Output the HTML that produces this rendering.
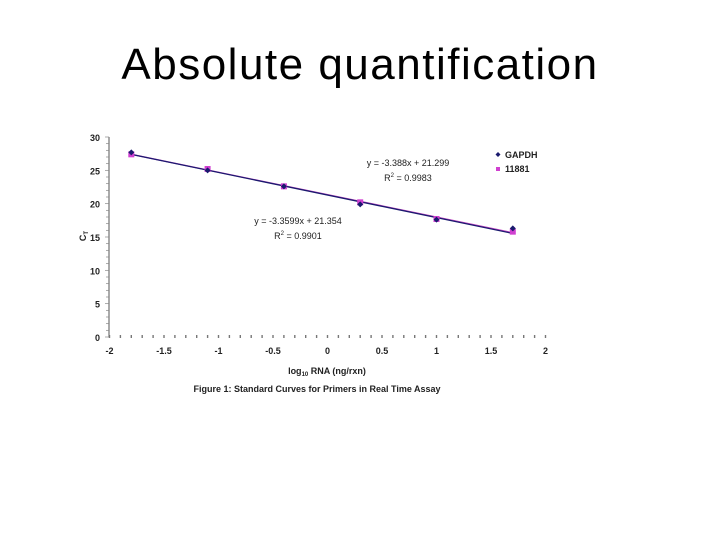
<!DOCTYPE html>
<html><head><meta charset="utf-8"><style>
body{margin:0;width:720px;height:540px;background:#fff;overflow:hidden;font-family:"Liberation Sans",sans-serif}
svg text{font-family:"Liberation Sans",sans-serif}
</style></head><body>
<div style="position:absolute;left:0;top:40px;width:720px;text-align:center;font-size:44px;letter-spacing:1.5px;color:#000;">Absolute quantification</div>
<svg id="chart" width="720" height="540" style="position:absolute;left:0;top:0"></svg>
<script>
const xTicks=[-2,-1.5,-1,-0.5,0,0.5,1,1.5,2];
const yTicks=[0,5,10,15,20,25,30];
const xVals=[-1.8,-1.1,-0.4,0.3,1.0,1.7];
const gapdh=[27.7,25.0,22.6,19.9,17.6,16.3];
const s11881=[27.4,25.2,22.6,20.2,17.7,15.8];
const fitG=[-3.388,21.299];
const fitS=[-3.3599,21.354];
const NS="http://www.w3.org/2000/svg";
const svg=document.getElementById('chart');
const X=v=>327.5+v*109;
const Y=v=>337-v*200/30;
function el(t,a,p){const e=document.createElementNS(NS,t);for(const k in a)e.setAttribute(k,a[k]);(p||svg).appendChild(e);return e;}
let ax=el('line',{x1:109,y1:Y(30),x2:109,y2:Y(0),stroke:'#555','stroke-width':1});


for(let v=0;v<=30;v+=1){el('line',{x1:v%5?106:105,y1:Y(v),x2:109,y2:Y(v),stroke:'#888','stroke-width':0.7});}
yTicks.forEach(v=>{const t=el('text',{x:100,y:Y(v)+4,'font-size':9,'font-weight':'bold','text-anchor':'end',fill:'#222'});t.textContent=v;

});
for(let v=-2;v<=2.001;v+=0.1){el('rect',{x:X(v)-0.7,y:Y(0)-2,width:1.4,height:3,fill:'#777'});}
xTicks.forEach(v=>{const t=el('text',{x:X(v),y:354,'font-size':9,'font-weight':'bold','text-anchor':'middle',fill:'#222'});t.textContent=v;

});
function fit(f,c,n){const l=el('line',{x1:X(xVals[0]),y1:Y(f[0]*xVals[0]+f[1]),x2:X(xVals[xVals.length-1]),y2:Y(f[0]*xVals[xVals.length-1]+f[1]),stroke:c,'stroke-width':1.3});

}
fit(fitS,'#c040c0','trendline-11881');
fit(fitG,'#1a1a6e','trendline-gapdh');
xVals.forEach((x,i)=>{const r=el('rect',{x:X(x)-3,y:Y(s11881[i])-3,width:6,height:6,fill:'#d040d0'});


const p=el('path',{d:`M${X(x)},${Y(gapdh[i])-3}l3,3l-3,3l-3,-3z`,fill:'#1a1a6e'});

});
function txt(x,y,s,a,sz,w,n){const t=el('text',{x:x,y:y,'font-size':sz||9,'text-anchor':a||'start','font-weight':w||'normal',fill:'#222'});t.innerHTML=s;

return t;}
txt(408,166,'y = -3.388x + 21.299','middle',9,'normal','equation-gapdh');
txt(408,181,'R<tspan font-size="6" dy="-4">2</tspan><tspan dy="4"> = 0.9983</tspan>','middle',9,'normal','r2-gapdh');
txt(298,224,'y = -3.3599x + 21.354','middle',9,'normal','equation-11881');
txt(298,239,'R<tspan font-size="6" dy="-4">2</tspan><tspan dy="4"> = 0.9901</tspan>','middle',9,'normal','r2-11881');
let lp=el('path',{d:'M498,152l2.5,2.5l-2.5,2.5l-2.5,-2.5z',fill:'#1a1a6e'});


txt(505,158,'GAPDH','start',9,'bold','legend-entry-gapdh');
let lr=el('rect',{x:496,y:167,width:4,height:4,fill:'#d040d0'});


txt(505,172,'11881','start',9,'bold','legend-entry-11881');
const yl=txt(0,0,'C<tspan font-size="6" dy="2">T</tspan>','middle',9,'bold','y-axis-title');
yl.setAttribute('transform','translate(86,236) rotate(-90)');
txt(327,374,'log<tspan font-size="6" dy="2">10</tspan><tspan dy="-2"> RNA (ng/rxn)</tspan>','middle',9,'bold','x-axis-title');
txt(317,392,'Figure 1: Standard Curves for Primers in Real Time Assay','middle',9,'bold','figure-caption');
</script>
</body></html>
